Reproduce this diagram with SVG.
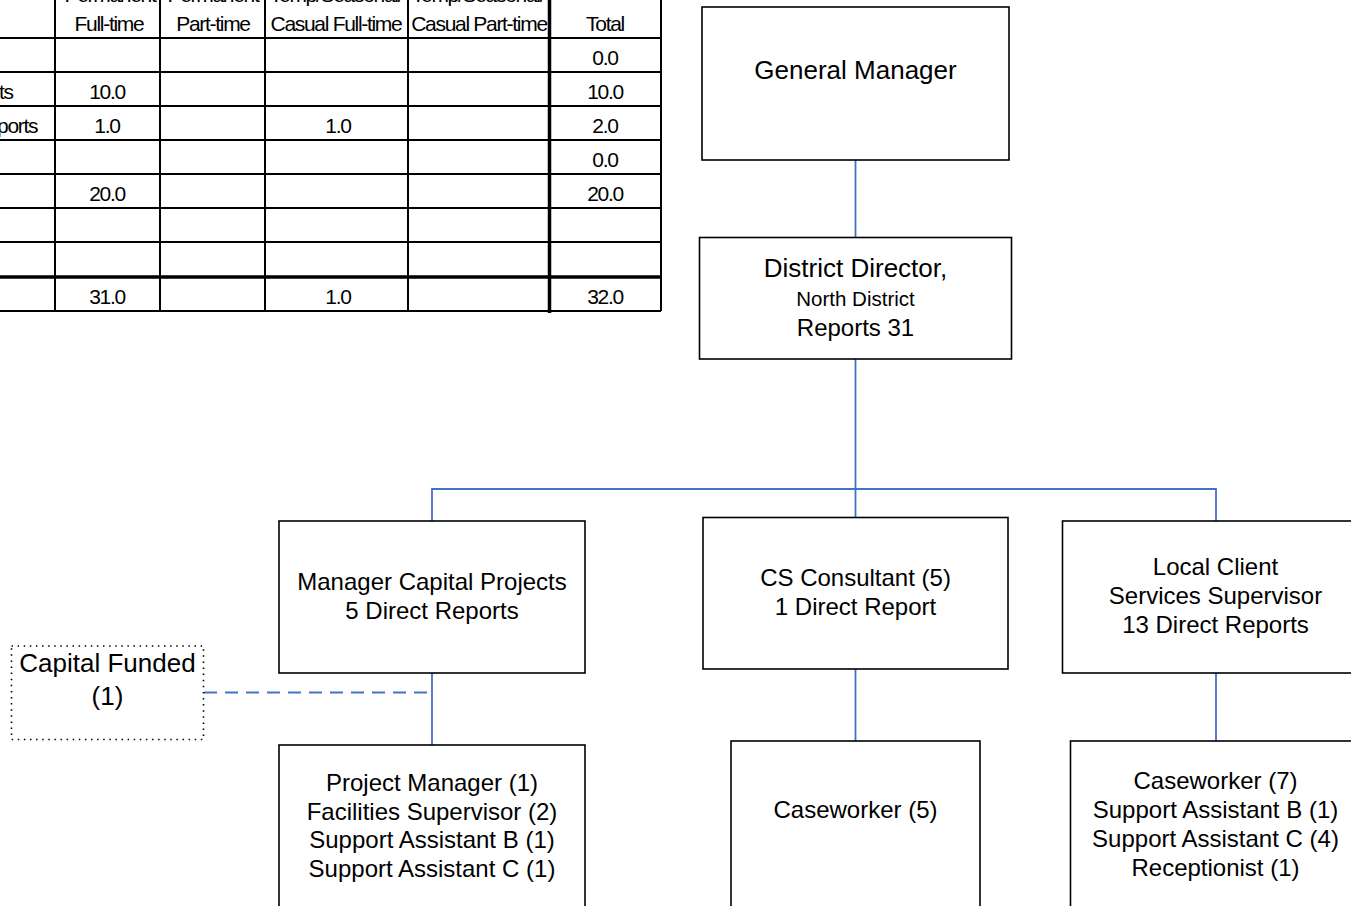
<svg xmlns="http://www.w3.org/2000/svg" width="1351" height="906" viewBox="0 0 1351 906">
  <style>
    .grid { stroke: #000; stroke-width: 2; fill: none; }
    .grid-bold { stroke: #000; stroke-width: 3.5; fill: none; }
    .tt { font-family: "Liberation Sans", Arial, sans-serif; font-size: 21px; letter-spacing: -1.3px; fill: #000; text-anchor: middle; }
    .tl { font-family: "Liberation Sans", Arial, sans-serif; font-size: 21px; letter-spacing: -1.3px; fill: #000; }
    .box { fill: #fff; stroke: #000; stroke-width: 1.6; }
    .note { fill: none; stroke: #000; stroke-width: 1.6; stroke-dasharray: 1.5 4.6; }
    .lbl { font-family: "Liberation Sans", Arial, sans-serif; font-size: 24px; fill: #000; text-anchor: middle; }
    .big { font-size: 26px; }
    .small { font-size: 20.5px; }
    .link { stroke: #4472C4; stroke-width: 1.8; fill: none; }
    .dash { stroke: #4472C4; stroke-width: 1.8; fill: none; stroke-dasharray: 13 8; }
  </style>

  <rect width="1351" height="906" fill="#fff"/>

  <!-- staffing summary table -->
  <g id="staff-table">
    <g class="grid">
      <line x1="0" y1="38" x2="661" y2="38"/>
      <line x1="0" y1="72" x2="661" y2="72"/>
      <line x1="0" y1="106" x2="661" y2="106"/>
      <line x1="0" y1="140" x2="661" y2="140"/>
      <line x1="0" y1="174" x2="661" y2="174"/>
      <line x1="0" y1="208" x2="661" y2="208"/>
      <line x1="0" y1="242" x2="661" y2="242"/>
      <line x1="0" y1="311" x2="661" y2="311"/>
      <line x1="55" y1="0" x2="55" y2="311"/>
      <line x1="160" y1="0" x2="160" y2="311"/>
      <line x1="265" y1="0" x2="265" y2="311"/>
      <line x1="408" y1="0" x2="408" y2="311"/>
      <line x1="661" y1="0" x2="661" y2="311"/>
    </g>
    <g class="grid-bold">
      <line x1="0" y1="277" x2="661" y2="277"/>
      <line x1="549.5" y1="0" x2="549.5" y2="313"/>
    </g>
    <!-- header -->
    <text class="tt" x="110" y="2">Permanent</text>
    <text class="tt" x="213" y="2">Permanent</text>
    <text class="tt" x="336" y="2">Temp/Seasonal/</text>
    <text class="tt" x="478" y="2">Temp/Seasonal/</text>
    <text class="tt" x="109" y="31">Full-time</text>
    <text class="tt" x="213" y="31">Part-time</text>
    <text class="tt" x="336" y="31">Casual Full-time</text>
    <text class="tt" x="479" y="31">Casual Part-time</text>
    <text class="tt" x="605" y="31">Total</text>
    <!-- row labels -->
    <text class="tl" x="-1" y="99">ts</text>
    <text class="tl" x="-3" y="133">ports</text>
    <!-- values -->
    <text class="tt" x="605" y="65">0.0</text>
    <text class="tt" x="107" y="99">10.0</text>
    <text class="tt" x="605" y="99">10.0</text>
    <text class="tt" x="107" y="133">1.0</text>
    <text class="tt" x="338" y="133">1.0</text>
    <text class="tt" x="605" y="133">2.0</text>
    <text class="tt" x="605" y="167">0.0</text>
    <text class="tt" x="107" y="201">20.0</text>
    <text class="tt" x="605" y="201">20.0</text>
    <text class="tt" x="107" y="304">31.0</text>
    <text class="tt" x="338" y="304">1.0</text>
    <text class="tt" x="605" y="304">32.0</text>
  </g>

  <!-- reporting lines -->
  <g id="connectors">
    <line class="link" x1="855.5" y1="160" x2="855.5" y2="237"/>
    <line class="link" x1="855.5" y1="359" x2="855.5" y2="517"/>
    <polyline class="link" points="432,521 432,489 1216,489 1216,521"/>
    <line class="link" x1="432" y1="673" x2="432" y2="745"/>
    <line class="link" x1="855.5" y1="669" x2="855.5" y2="741"/>
    <line class="link" x1="1216" y1="673" x2="1216" y2="741"/>
    <line class="dash" x1="204" y1="692.5" x2="432" y2="692.5"/>
  </g>

  <g id="general-manager">
    <rect class="box" x="702" y="7" width="307" height="153"/>
    <text class="lbl big" x="855.5" y="79">General Manager</text>
  </g>

  <g id="district-director">
    <rect class="box" x="699.5" y="237.5" width="312" height="121.5"/>
    <text class="lbl big" x="855.5" y="277">District Director,</text>
    <text class="lbl small" x="855.5" y="306">North District</text>
    <text class="lbl" x="855.5" y="336">Reports 31</text>
  </g>

  <g id="manager-capital-projects">
    <rect class="box" x="279" y="521" width="306" height="152"/>
    <text class="lbl" x="432" y="590">Manager Capital Projects</text>
    <text class="lbl" x="432" y="619">5 Direct Reports</text>
  </g>

  <g id="cs-consultant">
    <rect class="box" x="703" y="517.5" width="305" height="151.5"/>
    <text class="lbl" x="855.5" y="586">CS Consultant (5)</text>
    <text class="lbl" x="855.5" y="615">1 Direct Report</text>
  </g>

  <g id="local-client-services">
    <rect class="box" x="1062.5" y="521" width="306" height="152"/>
    <text class="lbl" x="1215.5" y="575">Local Client</text>
    <text class="lbl" x="1215.5" y="604">Services Supervisor</text>
    <text class="lbl" x="1215.5" y="633">13 Direct Reports</text>
  </g>

  <g id="capital-funded">
    <rect class="note" x="11.5" y="646" width="192" height="93.5"/>
    <text class="lbl big" x="107.5" y="672">Capital Funded</text>
    <text class="lbl big" x="107.5" y="705">(1)</text>
  </g>

  <g id="capital-projects-staff">
    <rect class="box" x="279" y="745" width="306" height="175"/>
    <text class="lbl" x="432" y="791">Project Manager (1)</text>
    <text class="lbl" x="432" y="820">Facilities Supervisor (2)</text>
    <text class="lbl" x="432" y="848">Support Assistant B (1)</text>
    <text class="lbl" x="432" y="877">Support Assistant C (1)</text>
  </g>

  <g id="consultant-caseworkers">
    <rect class="box" x="731" y="741" width="249" height="180"/>
    <text class="lbl" x="855.5" y="818">Caseworker (5)</text>
  </g>

  <g id="client-services-staff">
    <rect class="box" x="1070.5" y="741" width="290" height="180"/>
    <text class="lbl" x="1215.5" y="789">Caseworker (7)</text>
    <text class="lbl" x="1215.5" y="818">Support Assistant B (1)</text>
    <text class="lbl" x="1215.5" y="847">Support Assistant C (4)</text>
    <text class="lbl" x="1215.5" y="876">Receptionist (1)</text>
  </g>
</svg>
